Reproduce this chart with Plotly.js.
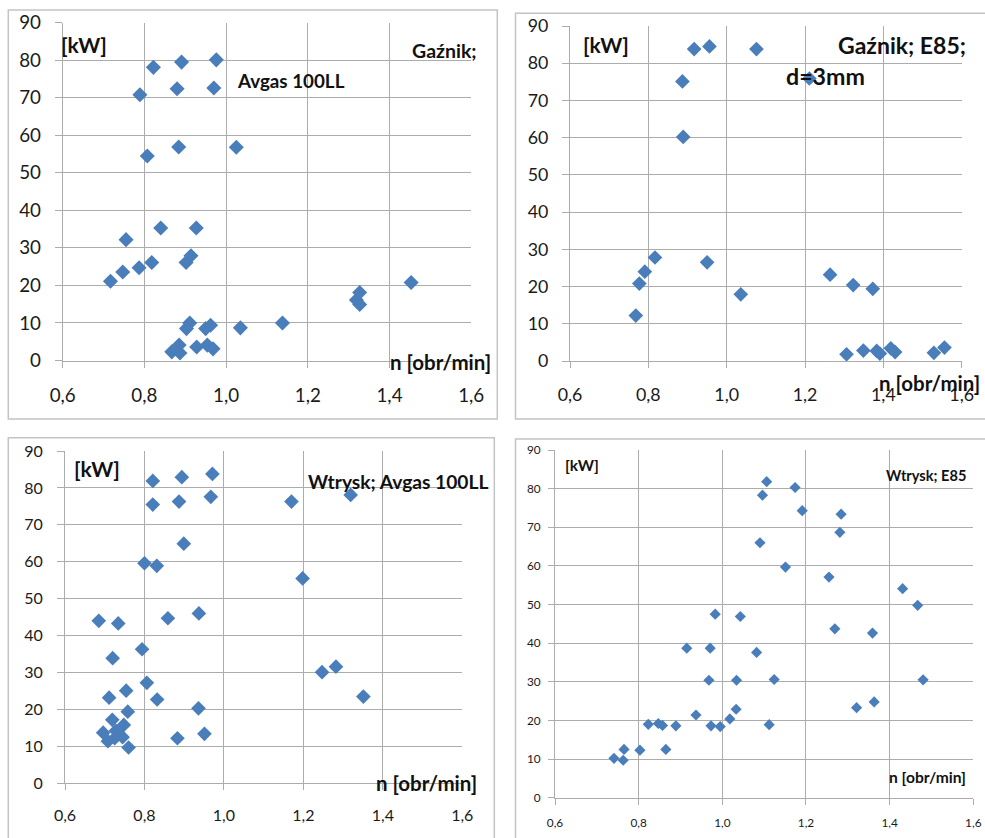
<!DOCTYPE html>
<html>
<head>
<meta charset="utf-8">
<script src="https://cdn.plot.ly/plotly-3.0.1.min.js"></script>
<style>html,body{margin:0;padding:0;background:#fff;}#chart{width:985px;height:838px;}</style>
</head>
<body>
<div id="chart"></div>
<script>
// ---- data ----
const xTickVals = [0.6, 0.8, 1.0, 1.2, 1.4, 1.6];
const xTickText = ['0,6', '0,8', '1,0', '1,2', '1,4', '1,6'];
const yTickVals = [0, 10, 20, 30, 40, 50, 60, 70, 80, 90];

// Gaźnik; Avgas 100LL
const n_carbAvgas = [0.717,0.747,0.755,0.787,0.818,0.789,0.822,0.807,0.840,0.880,0.891,0.884,0.927,0.902,0.914,0.976,0.970,1.025,0.903,0.911,0.928,0.867,0.885,0.887,0.950,0.962,0.954,0.968,1.035,1.138,1.319,1.327,1.327,1.453];
const kW_carbAvgas = [21.1,23.6,32.2,24.7,26.1,70.8,78.1,54.5,35.3,72.4,79.5,56.9,35.3,26.1,27.9,80.1,72.6,56.8,8.5,10.0,3.6,2.3,4.1,2.0,8.5,9.4,4.1,3.1,8.7,10.0,16.1,18.1,14.9,20.8];

// Gaźnik; E85; d=3mm
const n_carbE85 = [0.768,0.777,0.791,0.817,0.887,0.889,0.917,0.956,1.076,0.950,1.036,1.211,1.264,1.323,1.373,1.306,1.349,1.383,1.391,1.419,1.430,1.529,1.556];
const kW_carbE85 = [12.2,20.8,24.0,27.8,75.1,60.2,83.8,84.5,83.8,26.5,17.9,75.9,23.2,20.4,19.4,1.8,2.8,2.7,2.0,3.4,2.4,2.2,3.6];

// Wtrysk; Avgas 100LL
const n_injAvgas = [0.685,0.734,0.720,0.711,0.754,0.758,0.719,0.748,0.696,0.728,0.708,0.745,0.725,0.760,0.794,0.800,0.806,0.831,0.832,0.821,0.821,0.859,0.887,0.894,0.899,0.883,0.937,0.936,0.951,0.967,0.971,1.170,1.198,1.247,1.282,1.319,1.351];
const kW_injAvgas = [44.0,43.3,33.9,23.2,25.1,19.4,17.2,15.8,13.7,14.2,11.4,12.5,12.2,9.7,36.3,59.6,27.2,58.9,22.7,81.9,75.5,44.7,76.3,82.9,64.9,12.2,46.0,20.3,13.4,77.6,83.8,76.3,55.5,30.1,31.6,78.1,23.5];

// Wtrysk; E85
const n_injE85 = [0.741,0.763,0.765,0.803,0.823,0.847,0.857,0.865,0.889,0.915,0.937,0.971,0.968,0.973,0.983,0.995,1.018,1.033,1.034,1.043,1.082,1.090,1.096,1.106,1.112,1.124,1.151,1.174,1.191,1.255,1.269,1.281,1.284,1.321,1.359,1.363,1.431,1.467,1.480];
const kW_injE85 = [10.2,9.7,12.5,12.3,19.0,19.2,18.7,12.5,18.6,38.7,21.4,38.7,30.4,18.6,47.5,18.4,20.4,22.9,30.4,46.9,37.6,66.0,78.3,81.8,18.9,30.6,59.7,80.3,74.3,57.1,43.7,68.7,73.4,23.3,42.6,24.8,54.1,49.8,30.5];

// ---- styling / layout ----
const W = 985, H = 838;
const px = v => v / W;
const py = v => 1 - v / H;
const FONT = 'Lato, "Open Sans", sans-serif';
const MARKER = '#4a7ebb';
const GRID = '#acacac';

const panels = [
  {x: n_carbAvgas, y: kW_carbAvgas, dx: [62.7, 471.2], dy: [22.7, 360.5], tick: 18.8, msize: 11.6, ylen: 7, ystand: 10, xstand: 12},
  {x: n_carbE85,   y: kW_carbE85,   dx: [570, 961.7],  dy: [26, 361],     tick: 17.8, msize: 11.3, ylen: 7, ystand: 10, xstand: 12},
  {x: n_injAvgas,  y: kW_injAvgas,  dx: [65, 462.3],   dy: [451, 783.3],  tick: 16, msize: 11.3, ylen: 7, ystand: 11, xstand: 11},
  {x: n_injE85,    y: kW_injE85,    dx: [555, 973.3],  dy: [450, 797.7],  tick: 11.8, msize: 8.6,  ylen: 6, ystand: 5,  xstand: 8}
];

const data = [];
const layout = {
  width: W, height: H,
  margin: {l: 0, r: 0, t: 0, b: 0},
  paper_bgcolor: '#fff', plot_bgcolor: '#fff',
  showlegend: false,
  font: {family: FONT, color: '#1a1a1a'},
  shapes: [], annotations: []
};

panels.forEach((p, i) => {
  const k = i === 0 ? '' : String(i + 1);
  data.push({
    type: 'scatter', mode: 'markers',
    x: p.x, y: p.y,
    xaxis: 'x' + k, yaxis: 'y' + k,
    marker: {symbol: 'diamond', size: p.msize, color: MARKER, line: {width: 0}},
    hoverinfo: 'x+y'
  });
  layout['xaxis' + k] = {
    domain: [px(p.dx[0]), px(p.dx[1])], anchor: 'y' + k,
    range: [0.6, 1.6], tickvals: xTickVals, ticktext: xTickText,
    showgrid: true, gridcolor: GRID, gridwidth: 1, zeroline: false,
    showline: true, linecolor: GRID, linewidth: 1,
    ticks: 'outside', ticklen: 6, tickcolor: GRID,
    ticklabelstandoff: p.xstand,
    tickfont: {family: FONT, size: p.tick, color: '#1a1a1a'}, fixedrange: true
  };
  layout['yaxis' + k] = {
    domain: [py(p.dy[1]), py(p.dy[0])], anchor: 'x' + k,
    range: [0, 90], tickvals: yTickVals,
    showgrid: true, gridcolor: GRID, gridwidth: 1, zeroline: false,
    showline: true, linecolor: GRID, linewidth: 1,
    ticks: 'outside', ticklen: p.ylen, tickcolor: GRID,
    ticklabelstandoff: p.ystand,
    tickfont: {family: FONT, size: p.tick, color: '#1a1a1a'}, fixedrange: true
  };
});

// panel frames
const frames = [
  [8.3, 497.3, 10, 419],
  [515.5, 992, 13.3, 419],
  [8.3, 494.3, 437.7, 845],
  [515.5, 992, 439, 845]
];
frames.forEach(f => layout.shapes.push({
  type: 'rect', xref: 'paper', yref: 'paper',
  x0: px(f[0]), x1: px(f[1]), y0: py(f[3]), y1: py(f[2]),
  line: {color: '#c4c4c4', width: 1.5}, fillcolor: 'rgba(0,0,0,0)', layer: 'above'
}));

// text labels [text, left x px, center y px, font size]
const labels = [
  ['[kW]', 59.5, 44.5, 21],
  ['Gaźnik;', 410.7, 50, 19.5],
  ['Avgas 100LL', 236, 80.3, 18.8],
  ['n [obr/min]', 389, 362, 20.5],
  ['[kW]', 581.7, 45, 21],
  ['Gaźnik; E85;', 837.3, 45, 23],
  ['d=3mm', 785, 76, 23.2],
  ['n [obr/min]', 878.3, 383.3, 20.5],
  ['[kW]', 72.7, 468.3, 21],
  ['Wtrysk; Avgas 100LL', 307.3, 481.7, 19.2],
  ['n [obr/min]', 375, 783.3, 20.5],
  ['[kW]', 564, 465, 15.5],
  ['Wtrysk; E85', 885, 475, 14.6],
  ['n [obr/min]', 888.3, 776.7, 15.6]
];
labels.forEach(l => layout.annotations.push({
  text: '<b>' + l[0] + '</b>', xref: 'paper', yref: 'paper',
  x: px(l[1]), y: py(l[2]), xanchor: 'left', yanchor: 'middle',
  showarrow: false, borderpad: 0,
  font: {family: FONT, size: l[3], color: '#111'}
}));

Plotly.newPlot('chart', data, layout, {displayModeBar: false, staticPlot: true});
</script>
</body>
</html>
